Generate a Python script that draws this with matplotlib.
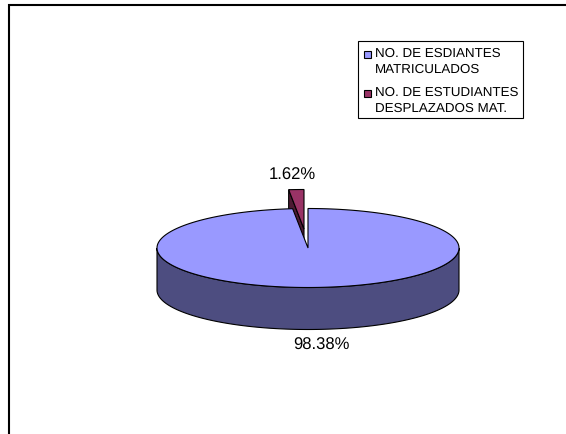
import numpy as np
import matplotlib
matplotlib.use("agg")
import matplotlib.pyplot as plt
from matplotlib.patches import Polygon, Rectangle

plt.rcParams['font.family'] = ['Liberation Sans', 'DejaVu Sans']
plt.rcParams['text.hinting'] = 'none'

labels = ["NO. DE ESDIANTES\nMATRICULADOS", "NO. DE ESTUDIANTES\nDESPLAZADOS MAT."]
shares = [98.38, 1.62]
top_colors = ["#9999FF", "#993366"]
side_colors = ["#4D4D80", "#4D1A33"]

W, H = 566, 434
cx, cy = 308, 248      # pie centre
rx, ry = 151, 39.5
depth = 42
explode = (-4, -19)    # shift of the small slice

def rim(a0, a1, n=200):
    # angles clockwise from 12 o'clock
    t = np.radians(np.linspace(a0, a1, n))
    return np.column_stack([cx + rx * np.sin(t), cy - ry * np.cos(t)])

fig = plt.figure(figsize=(W / 100, H / 100), dpi=100)
ax = fig.add_axes([0, 0, 1, 1])
ax.set_xlim(0, W)
ax.set_ylim(H, 0)
ax.axis("off")

# frame, only left and top show
ax.plot([9, 9, W], [H, 5, 5], color="black", lw=1.5, solid_joinstyle="miter")

sweep = 360 * shares[1] / sum(shares)
main_end = 360 - sweep

# small slice first so the big one sits over it
edge = rim(main_end, 360, 40) + explode
tip = np.array([cx + explode[0], cy + explode[1]])
ax.add_patch(Polygon(np.vstack([[tip + (0, depth)], edge[:1] + (0, depth), edge[:1], [tip]]),
                     fc=side_colors[1], ec="black", lw=0.8, zorder=2))
ax.add_patch(Polygon(np.vstack([[tip], edge]), fc=top_colors[1], ec="black", lw=0.8, zorder=3))

# big slice: wall then top
low = rim(90, 270)
wall = np.vstack([low, (low + (0, depth))[::-1]])
ax.add_patch(Polygon(wall, fc=side_colors[0], ec="black", lw=0.8, zorder=4))
ax.add_patch(Polygon(np.vstack([[[cx, cy]], rim(0, main_end, 400)]),
                     fc=top_colors[0], ec="black", lw=0.8, zorder=5))

ax.text(292, 175.5, f"{shares[1]:.2f}%", ha="center", va="center", fontsize=12, color="black", zorder=6)
ax.text(321.5, 345, f"{shares[0]:.2f}%", ha="center", va="center", fontsize=12, color="black", zorder=6)

# legend box drawn by hand, the markers sit on the first line of each entry
ax.add_patch(Rectangle((357.5, 41), 165, 77, fc="white", ec="black", lw=0.8, zorder=7))
for label, color, y in zip(labels, top_colors, [47, 86]):
    ax.add_patch(Rectangle((363.5, y + 3.5), 7, 7, fc=color, ec="black", lw=0.8, zorder=8))
    ax.text(375, y, label, ha="left", va="top", fontsize=9.6, linespacing=1.45, color="black", zorder=8)

fig.savefig("out.png", dpi=100)
